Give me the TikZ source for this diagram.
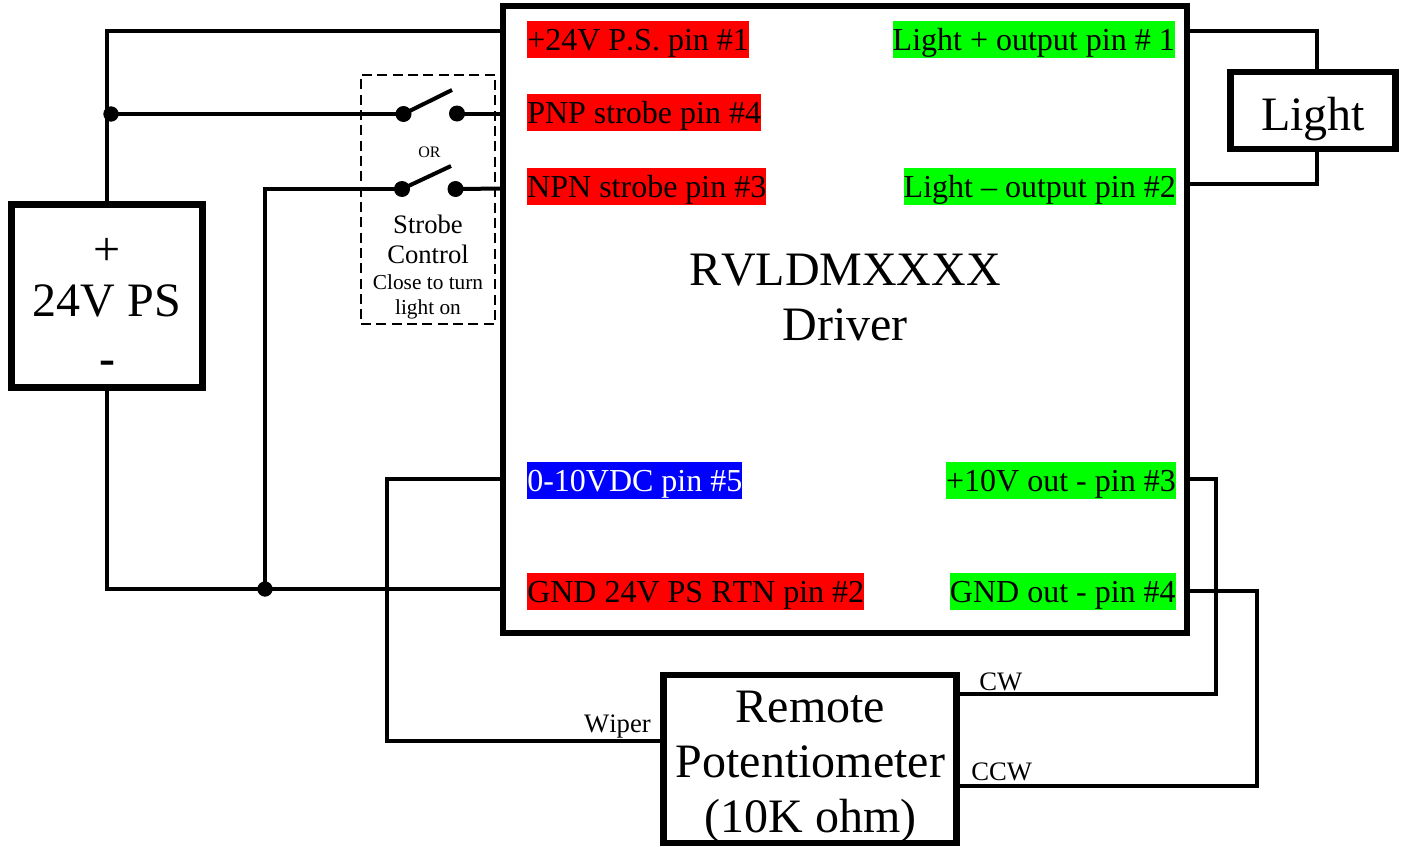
\documentclass[tikz,border=0pt]{standalone}
\usepackage{fontspec}
\setmainfont[Kerning=Off]{Liberation Serif}
\tikzset{
  wire/.style={draw=black,line width=3pt,line join=miter},
  bigbox/.style={draw=black,line width=5pt,fill=white,inner sep=0pt},
  bigtxt/.style={inner sep=0pt,align=center,font=\fontsize{36}{41.25}\selectfont},
  pinlabel/.style={inner sep=0pt,text height=21.75pt,text depth=6pt,font=\fontsize{24}{28}\selectfont},
  redpin/.style={pinlabel,fill=red,anchor=west},
  bluepin/.style={pinlabel,fill=blue,text=white,anchor=west},
  greenpin/.style={pinlabel,fill=green,anchor=east},
  dot/.style={circle,fill=black,inner sep=0pt,outer sep=0pt,minimum size=12pt},
  arm/.style={draw=black,line width=3pt},
  smalltxt/.style={inner sep=0pt,align=center,font=\fontsize{20}{22.5}\selectfont},
  tinytxt/.style={inner sep=0pt,align=center,font=\fontsize{16}{18.75}\selectfont},
  wiretxt/.style={inner sep=0pt,font=\fontsize{20}{24}\selectfont}
}
\begin{document}
\begin{tikzpicture}[x=0.75pt,y=-0.75pt]
\useasboundingbox (0,0) rectangle (1402,846);
% boxes
\node[bigbox,minimum width=513pt,minimum height=470.25pt] (drv) at (845,319.5) {};
\node[bigtxt] (title) at (845,298) {RVLDMXXXX\\Driver};
\node[bigbox,minimum width=143.5pt,minimum height=137pt] (ps) at (107,296) {};
\node[bigtxt] (pstxt) at (107,306.5) {+\\[-3pt]24V PS\\[2.5pt]\textbf{-}};
\node[bigbox,minimum width=123.5pt,minimum height=57.75pt] (light) at (1313,110.5) {};
\node[bigtxt] (lighttxt) at (1313,119) {Light};
\node[bigbox,minimum width=220pt,minimum height=126pt] (pot) at (810,759) {};
\node[bigtxt] (pottxt) at (810.5,766.5) {Remote\\Potentiometer\\(10K ohm)};
% strobe control frame
\node[draw=black,line width=2pt,dash pattern=on 7.5pt off 4pt,minimum width=100.5pt,minimum height=186.75pt,inner sep=0pt] (frame) at (428,199.5) {};
% edge coordinates on the driver
\coordinate (d1) at (505,31);
\coordinate (d4) at (505,113.5);
\coordinate (d3) at (505,188.5);
\coordinate (d5) at (505,479);
\coordinate (d2) at (505,589);
\coordinate (o1) at (1185,31);
\coordinate (o2) at (1185,184);
\coordinate (o3) at (1185,479);
\coordinate (o4) at (1185,591);
\coordinate (tl) at (1317,71);
\coordinate (bl) at (1317,150);
\coordinate (psb) at (107,388);
\coordinate (pst) at (107,203);
\coordinate (wip) at (662,741);
\coordinate (cw) at (958,694);
\coordinate (ccw) at (958,786);
% switches and junctions
\node[dot] (s1a) at (403.5,114) {};
\node[dot] (s1b) at (457,113.5) {};
\node[dot] (s2a) at (402,189) {};
\node[dot] (s2b) at (455.5,189) {};
\node[dot,minimum size=11.5pt] (j1) at (111,114) {};
\node[dot,minimum size=11.5pt] (j2) at (265,589) {};
\coordinate (a1) at (452,90);
\coordinate (a2) at (451,166);
% wires
\draw[wire] (pst) -- (pst |- d1) -- (d1);
\draw[wire] (j1.center) -- (s1a.center);
\draw[wire] (s1b.center) -- (d4);
\draw[wire] (s2b.center) -- (d3);
\draw[wire] (s2a.center) -- (j2 |- s2a) -- (j2.center);
\draw[wire] (psb) -- (psb |- d2) -- (d2);
\draw[wire] (d5) -- (387,479) -- (387,741) -- (wip);
\draw[wire] (o1) -- (tl |- o1) -- (tl);
\draw[wire] (o2) -- (bl |- o2) -- (bl);
\draw[wire] (o3) -- (1216,479) -- (1216,694) -- (cw);
\draw[wire] (o4) -- (1257,591) -- (1257,786) -- (ccw);
\draw[arm] (s1a.center) -- (a1);
\draw[arm] (s2a.center) -- (a2);
% pin labels
\node[redpin] (l1) at (527,39.5) {+24V P.S. pin \#1};
\node[redpin] (l2) at (527,112.5) {PNP strobe pin \#4};
\node[redpin] (l3) at (527,186.5) {NPN strobe pin \#3};
\node[bluepin] (l4) at (527,480.5) {0-10VDC pin \#5};
\node[redpin] (l5) at (527,591.5) {GND 24V PS RTN pin \#2};
\node[greenpin] (r1) at (1175,39.5) {Light + output pin \# 1};
\node[greenpin] (r2) at (1176,186.5) {Light – output pin \#2};
\node[greenpin] (r3) at (1176,480.5) {+10V out - pin \#3};
\node[greenpin] (r4) at (1176,591.5) {GND out - pin \#4};
% small texts
\node[inner sep=0pt,font=\fontsize{12}{14}\selectfont] (ortxt) at (429.5,152) {OR};
\node[smalltxt] (strobe) at (428,239) {Strobe\\Control};
\node[tinytxt] (close) at (428,296.5) {Close to turn\\light on};
\node[wiretxt,anchor=base east] (twip) at (651,732) {Wiper};
\node[wiretxt,anchor=base west] (tcw) at (979,690) {CW};
\node[wiretxt,anchor=base west] (tccw) at (971,780) {CCW};
\end{tikzpicture}
\end{document}
